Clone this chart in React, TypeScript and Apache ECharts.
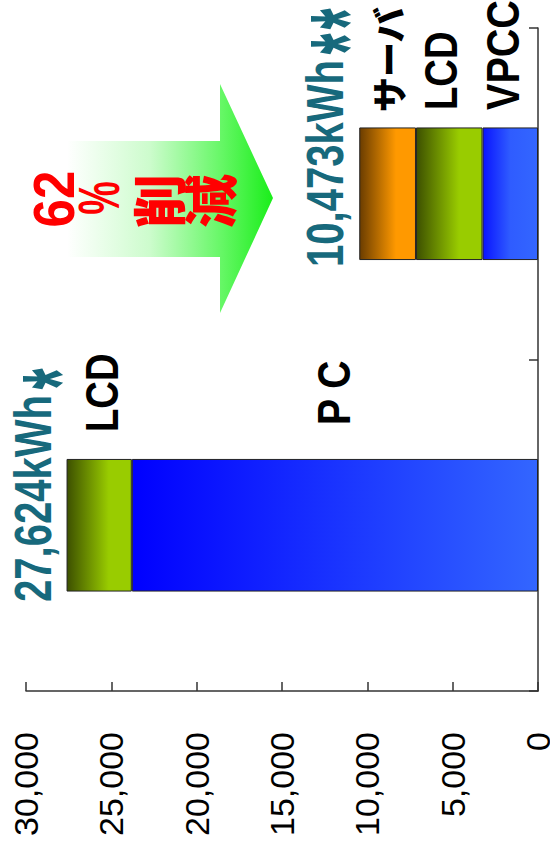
import React, { useEffect, useRef } from "react";
import * as echarts from "echarts";

const categories = ["導入前", "導入後"];
const pcVpccValues = [23800, 3250];
const lcdValues = [3824, 3900];
const serverValues: (number | string)[] = ["-", 3323];
const valueTicks = { min: 0, max: 30000, interval: 5000 };
const totalLabels = ["27,624kWh", "10,473kWh"];

const SANS = '"Liberation Sans", Arial, "Noto Sans CJK JP", sans-serif';
const CJK = '"Noto Sans CJK JP", "Liberation Sans", sans-serif';

function grad(stops: [number, string][]) {
  return new echarts.graphic.LinearGradient(
    0, 0, 1, 0,
    stops.map(([offset, color]) => ({ offset, color }))
  );
}

function vtext(text: string, x: number, y: number, size: number, color: string, family: string, sx = 1, align = "left", weight = "bold", sy = 1) {
  return {
    type: "text",
    x,
    y,
    rotation: Math.PI / 2,
    scaleX: sx,
    scaleY: sy,
    z: 10,
    style: {
      text,
      fill: color,
      font: `${weight} ${size}px ${family}`,
      textAlign: align,
      align,
      textVerticalAlign: "middle",
      verticalAlign: "middle",
    },
  };
}

export default function App() {
  const ref = useRef<HTMLDivElement>(null);
  useEffect(() => {
    if (!ref.current) return;
    const chart = echarts.init(ref.current, undefined, { renderer: "svg" });
    const blue = grad([[0, "#0000ff"], [1, "#3366ff"]]);
    const blue2 = grad([[0, "#0a14ff"], [0.5, "#2f5cff"], [1, "#3366ff"]]);
    const lcd = grad([[0, "#3d5000"], [0.65, "#99cc00"], [1, "#99cc00"]]);
    const server = grad([[0, "#6b3d00"], [0.65, "#ff9900"], [1, "#ff9900"]]);
    const border = { borderColor: "#222", borderWidth: 1 };
    const teal = "#17697c";
    const star = (x: number, y: number) => vtext("*", x, y, 60, teal, SANS, 0.9, "center", "bold", 1.8);
    chart.setOption({
      animation: false,
      backgroundColor: "#ffffff",
      grid: { left: 26, right: 12, top: 28, bottom: 154, containLabel: false, outerBoundsMode: "none" },
      xAxis: {
        type: "value",
        inverse: true,
        position: "bottom",
        min: valueTicks.min,
        max: valueTicks.max,
        interval: valueTicks.interval,
        splitLine: { show: false },
        axisLine: { show: true, lineStyle: { color: "#333", width: 1.5 } },
        axisTick: { show: true, inside: true, length: 9, lineStyle: { color: "#333", width: 1.5 } },
        axisLabel: {
          rotate: 90,
          margin: 41,
          fontSize: 34,
          color: "#000",
          fontFamily: SANS,
          hideOverlap: false,
          formatter: (v: number) => v.toLocaleString("en-US"),
        },
      },
      yAxis: {
        type: "category",
        position: "right",
        data: categories,
        axisLine: { show: true, lineStyle: { color: "#333", width: 1.5 } },
        axisTick: { show: true, inside: true, length: 9, lineStyle: { color: "#333", width: 1.5 } },
        axisLabel: { show: false },
      },
      series: [
        {
          name: "PC / VPCC",
          type: "bar",
          stack: "total",
          barWidth: "40%",
          data: [
            { value: pcVpccValues[0], itemStyle: { color: blue, ...border } },
            { value: pcVpccValues[1], itemStyle: { color: blue2, ...border } },
          ],
        },
        {
          name: "LCD",
          type: "bar",
          stack: "total",
          barWidth: "40%",
          itemStyle: { color: lcd, ...border },
          data: lcdValues,
        },
        {
          name: "サーバ",
          type: "bar",
          stack: "total",
          barWidth: "40%",
          itemStyle: { color: server, ...border },
          data: serverValues,
        },
      ],
      graphic: [
        {
          type: "polygon",
          z: 1,
          shape: {
            points: [
              [67, 141], [220, 141], [220, 84], [273, 198], [220, 313], [220, 257], [67, 257],
            ],
          },
          style: {
            fill: grad([[0, "#ffffff"], [0.4, "#cdfccd"], [0.75, "#66f766"], [1, "#1aee1a"]]),
          },
        },
        vtext("62", 54, 199, 58, "#ff0000", SANS, 0.88, "center"),
        vtext("%", 99, 198, 54, "#ff0000", SANS, 0.7, "center", "bold", 1.05),
        vtext("削", 157, 201, 54, "#ff0000", CJK, 1, "center", "900"),
        vtext("減", 208, 201, 54, "#ff0000", CJK, 1, "center", "900"),
        vtext(totalLabels[0], 33, 602, 52, teal, SANS, 0.77),
        star(60, 379),
        vtext(totalLabels[1], 325, 267, 52, teal, SANS, 0.77),
        star(348, 44),
        star(348, 19),
        vtext("LCD", 102, 432, 46, "#000", SANS, 0.83),
        vtext("P C", 334, 425, 46, "#000", SANS, 0.85),
        vtext("サーバ", 387, 112, 35, "#000", CJK, 1, "left", "900"),
        vtext("LCD", 441, 110, 46, "#000", SANS, 0.83),
        vtext("VPCC", 503, 110, 46, "#000", SANS, 0.86),
      ],
    });
    return () => chart.dispose();
  }, []);
  return (
    <div
      ref={ref}
      style={{ position: "fixed", left: 0, top: 0, width: 550, height: 845 }}
    />
  );
}
